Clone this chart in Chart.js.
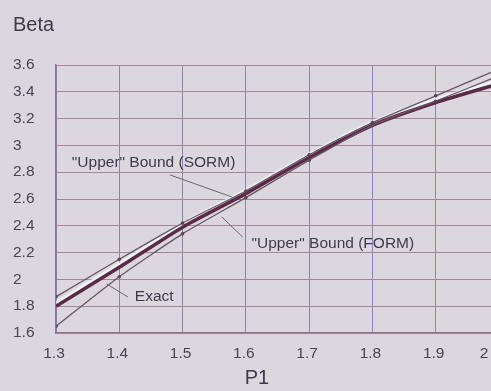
<!DOCTYPE html>
<html>
<head>
<meta charset="utf-8">
<script src="https://cdn.jsdelivr.net/npm/chart.js@4.4.1/dist/chart.umd.min.js"></script>
<style>
  html, body { margin: 0; padding: 0; overflow: hidden; background: #dcd7df; }
  canvas { display: block; }
</style>
</head>
<body>
<canvas id="betaChart" width="510" height="391"></canvas>
<script>
// reliability index vs. P1
const p1Values = [1.3, 1.4, 1.5, 1.6, 1.7, 1.8, 1.9, 2.0];
const betaExact = [1.65, 2.02, 2.34, 2.61, 2.89, 3.15, 3.33, 3.52];
const betaForm = [1.80, 2.09, 2.39, 2.64, 2.91, 3.15, 3.32, 3.46];
const betaSorm = [1.87, 2.15, 2.42, 2.66, 2.93, 3.17, 3.37, 3.57];

const xTicks = [1.3, 1.4, 1.5, 1.6, 1.7, 1.8, 1.9, 2.0];
const yTicks = [1.6, 1.8, 2.0, 2.2, 2.4, 2.6, 2.8, 3.0, 3.2, 3.4, 3.6];

// text callouts, anchored in data units
const callouts = [
    { text: '"Upper" Bound (SORM)', at: [1.325, 2.87], from: [1.480, 2.78], to: [1.578, 2.615] },
    { text: '"Upper" Bound (FORM)', at: [1.609, 2.264], from: [1.595, 2.316], to: [1.562, 2.466] },
    { text: 'Exact', at: [1.4246, 1.869], from: [1.4136, 1.869], to: [1.380, 1.966] }
];

const FONT = '"Liberation Sans", Arial, sans-serif';
Chart.defaults.font.family = FONT;

const toPoints = ys => ys.map((v, i) => ({ x: p1Values[i], y: v }));
const fmt = v => String(Math.round(v * 10) / 10);

const calloutPlugin = {
    id: 'callouts',
    beforeDatasetDraw(chart, args) {
        if (args.index !== 1) return;
        // light fringe along the top of the thick curve
        const ctx = chart.ctx;
        ctx.save();
        ctx.shadowColor = 'rgba(240, 248, 248, 0.95)';
        ctx.shadowOffsetY = -3;
        ctx.shadowBlur = 1.5;
    },
    afterDatasetDraw(chart, args) {
        if (args.index === 1) chart.ctx.restore();
    },
    afterDatasetsDraw(chart) {
        const { ctx, scales: { x, y } } = chart;
        ctx.save();
        callouts.forEach(c => {
            ctx.strokeStyle = '#6d6371';
            ctx.lineWidth = 1;
            ctx.beginPath();
            ctx.moveTo(x.getPixelForValue(c.from[0]), y.getPixelForValue(c.from[1]));
            ctx.lineTo(x.getPixelForValue(c.to[0]), y.getPixelForValue(c.to[1]));
            ctx.stroke();
            ctx.font = '15.5px ' + FONT;
            ctx.fillStyle = '#42384a';
            ctx.textAlign = 'left';
            ctx.textBaseline = 'middle';
            ctx.fillText(c.text, x.getPixelForValue(c.at[0]), y.getPixelForValue(c.at[1]));
        });
        ctx.font = '20px ' + FONT;
        ctx.fillStyle = '#40384a';
        ctx.textBaseline = 'middle';
        ctx.textAlign = 'left';
        ctx.fillText('Beta', 13, 25);
        ctx.textAlign = 'center';
        ctx.fillText('P1', 257, 378);
        ctx.restore();
    }
};

new Chart(document.getElementById('betaChart').getContext('2d'), {
    type: 'line',
    data: {
        datasets: [
            {
                label: 'Exact',
                data: toPoints(betaExact),
                borderColor: '#6a5566',
                backgroundColor: '#5a4456',
                borderWidth: 1.3,
                pointRadius: 1.8,
                pointBorderWidth: 0,
                tension: 0.2,
                order: 1
            },
            {
                label: '"Upper" Bound (FORM)',
                data: toPoints(betaForm),
                borderColor: '#5b2a46',
                borderWidth: 3.5,
                pointRadius: 0,
                tension: 0.2,
                order: 3
            },
            {
                label: '"Upper" Bound (SORM)',
                data: toPoints(betaSorm),
                borderColor: '#6a5566',
                backgroundColor: '#5a4456',
                borderWidth: 1.3,
                pointRadius: 1.8,
                pointBorderWidth: 0,
                tension: 0.2,
                order: 2
            }
        ]
    },
    options: {
        responsive: false,
        animation: false,
        layout: { padding: { left: 13, top: 65, right: 11, bottom: 0 } },
        plugins: { legend: { display: false }, tooltip: { enabled: false } },
        scales: {
            x: {
                type: 'linear',
                min: 1.3,
                max: 2.0,
                afterBuildTicks: s => { s.ticks = xTicks.map(v => ({ value: v })); },
                afterFit: s => { s.height = 58; s.paddingLeft = 0; s.paddingRight = 0; },
                grid: { color: '#8b84b0', lineWidth: 1, drawTicks: false },
                border: { color: '#937888', width: 1.5 },
                ticks: {
                    padding: 11,
                    labelOffset: -2,
                    color: '#4c4353',
                    font: { size: 15.5 },
                    maxRotation: 0,
                    autoSkip: false,
                    // last label sits inside the frame edge
                    callback: v => v === 2 ? fmt(v) + '      ' : fmt(v)
                }
            },
            y: {
                min: 1.6,
                max: 3.6,
                afterBuildTicks: s => { s.ticks = yTicks.map(v => ({ value: v })); },
                afterFit: s => { s.width = 43; },
                grid: { color: '#a68594', lineWidth: 1, drawTicks: false },
                border: { color: '#857aa6', width: 1.5 },
                ticks: {
                    crossAlign: 'far',
                    color: '#4c4353',
                    font: { size: 15.5 },
                    autoSkip: false,
                    callback: v => fmt(v)
                }
            }
        }
    },
    plugins: [calloutPlugin]
});
</script>
</body>
</html>
